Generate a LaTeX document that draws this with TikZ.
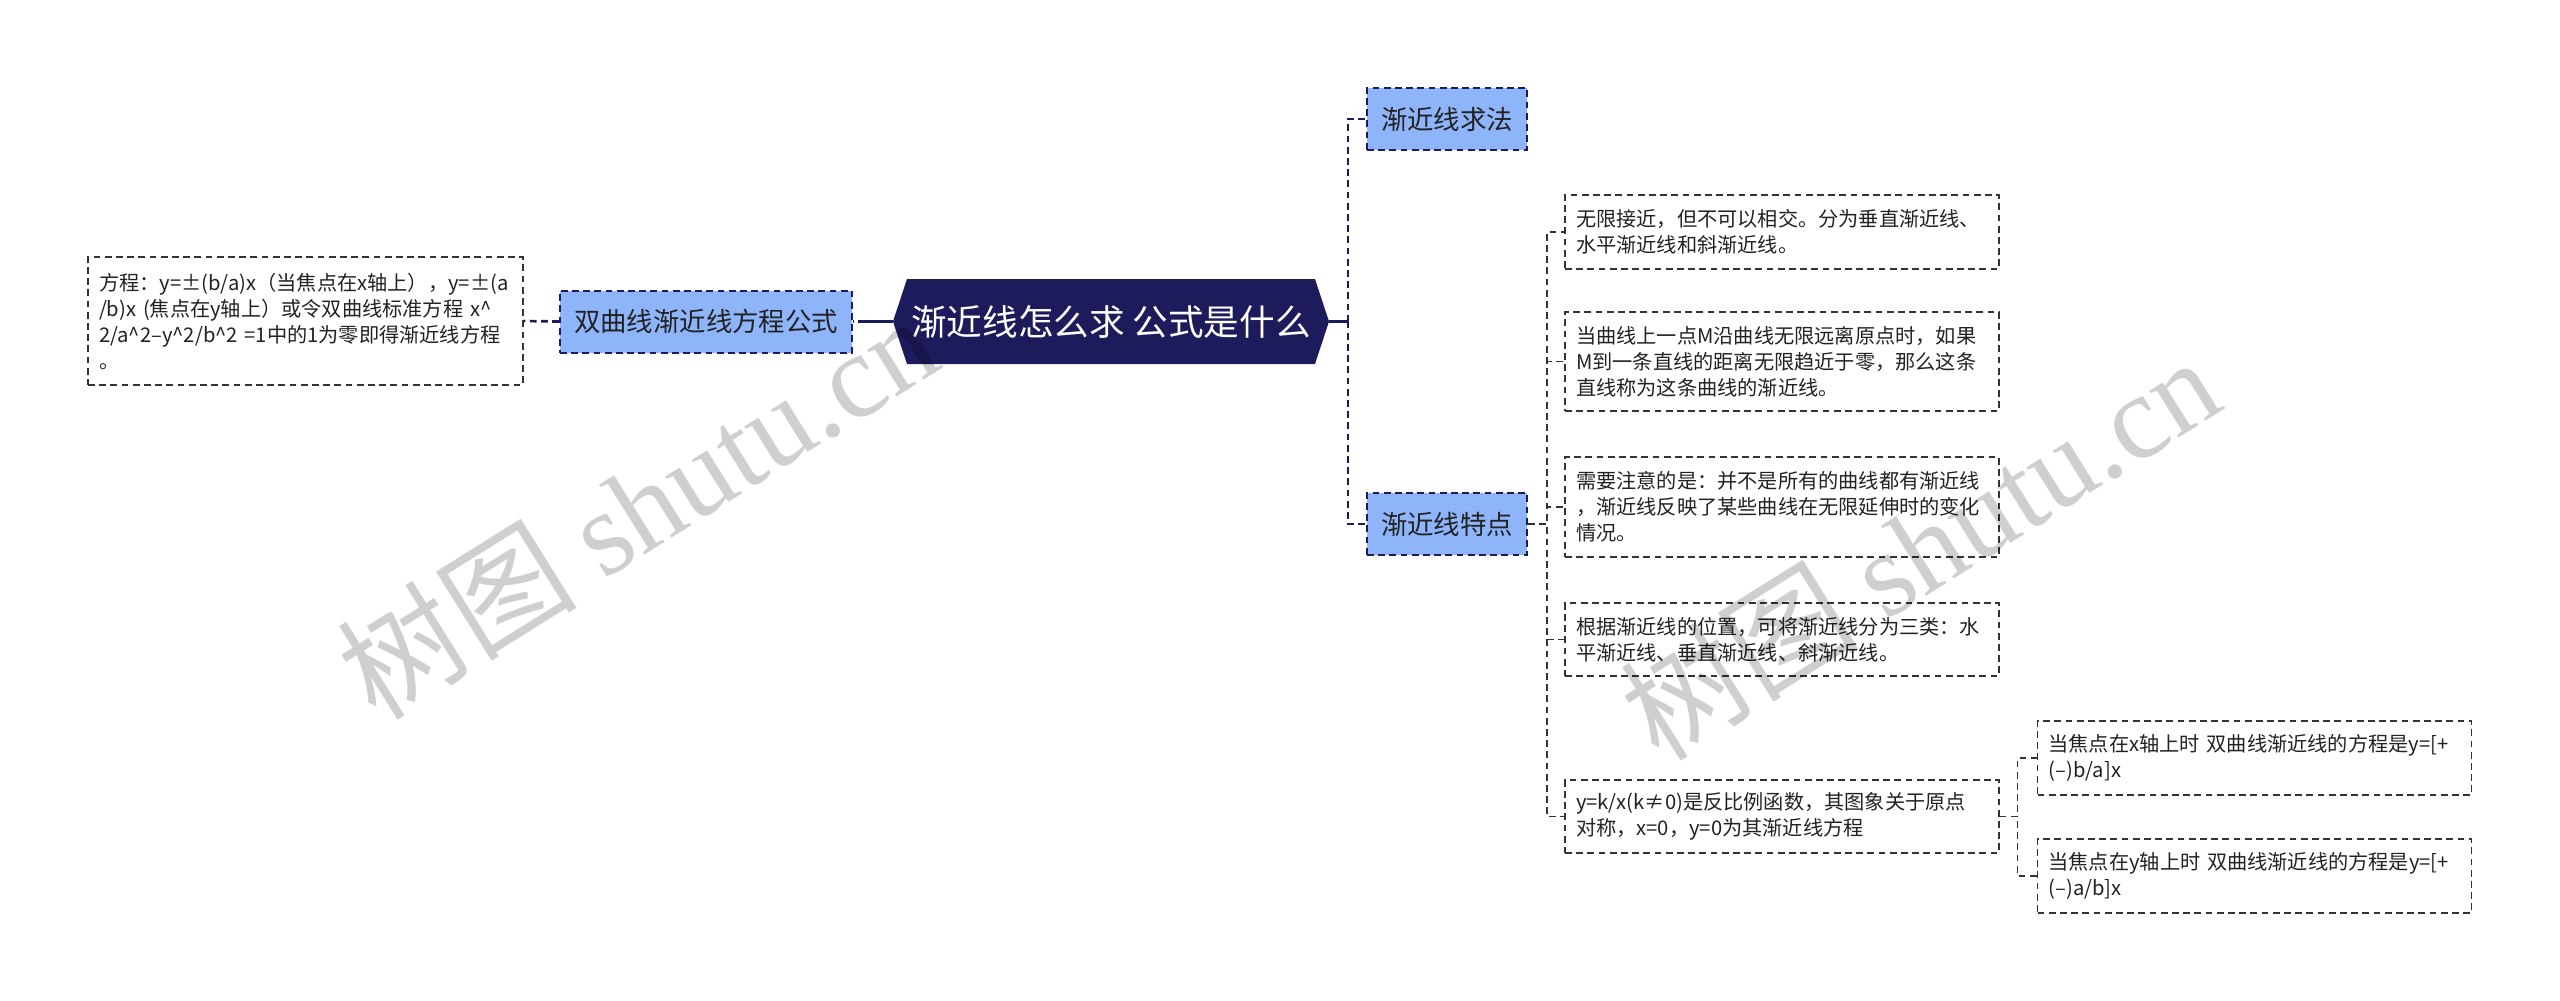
\documentclass[tikz,border=0pt]{standalone}
\usepackage{fontspec}
\setmainfont{Noto Sans CJK SC}
\newfontfamily\wmlat{Liberation Serif}
\definecolor{navy}{HTML}{1E1B5C}
\definecolor{lblue}{HTML}{8EB4F9}
\definecolor{leafline}{HTML}{333333}
\definecolor{txt}{HTML}{222222}
\begin{document}
\begin{tikzpicture}[x=0.5pt,y=-0.5pt,
  trunk/.style={draw=navy, line width=1.35pt, dash pattern=on 3.4pt off 2.2pt},
  trunksolid/.style={draw=navy, line width=1.35pt},
  leafconn/.style={draw=leafline, line width=0.65pt, dash pattern=on 3.4pt off 2.2pt},
  lvl/.style={draw=navy, fill=lblue, line width=1pt, dash pattern=on 3.4pt off 2.2pt, inner sep=0pt, minimum width=80pt, minimum height=31pt, text=txt, font=\fontsize{13.2pt}{16pt}\selectfont},
  leaf/.style={draw=leafline, fill=white, line width=0.65pt, dash pattern=on 3.4pt off 2.2pt, inner xsep=5.5pt, inner ysep=0pt, text width=206pt, minimum width=217pt, text=txt, align=left, font=\fontsize{10.1pt}{13pt}\selectfont},
  wm/.style={rotate=32, text=black, text opacity=0.19, inner sep=0pt, font=\fontsize{60pt}{60pt}\selectfont},
]
\useasboundingbox (0,0) rectangle (2560,1001);

% central hexagon
\fill[navy] (893,321.5) -- (907,279) -- (1315,279) -- (1329,321.5) -- (1315,364) -- (907,364) -- cycle;
\node[minimum width=218pt, minimum height=42.5pt, inner sep=0pt, text=white, font=\fontsize{17.8pt}{20pt}\selectfont] (C) at (1111,321.5) {渐近线怎么求 公式是什么};

% level 1
\node[lvl, minimum width=146pt] (A) at (706,321.5) {双曲线渐近线方程公式};
\node[lvl] (B1) at (1447,119) {渐近线求法};
\node[lvl] (B2) at (1447,524) {渐近线特点};

% left leaf
\node[leaf, text width=206.5pt, minimum width=217.5pt, minimum height=64pt] (L1) at (305.5,321) {\mbox{方程：y=±(b/a)x（当焦点在x轴上），y=±(a}\\\mbox{/b)x (焦点在y轴上）或令双曲线标准方程 x\^{}}\\\mbox{2/a\^{}2–y\^{}2/b\^{}2 =1中的1为零即得渐近线方程}\\。};

% right leaves
\node[leaf, minimum height=37pt] (T1) at (1782,232) {\mbox{无限接近，但不可以相交。分为垂直渐近线、}\\\mbox{水平渐近线和斜渐近线。}};
\node[leaf, minimum height=49.5pt] (T2) at (1782,361.5) {\mbox{当曲线上一点M沿曲线无限远离原点时，如果}\\\mbox{M到一条直线的距离无限趋近于零，那么这条}\\\mbox{直线称为这条曲线的渐近线。}};
\node[leaf, minimum height=50pt] (T3) at (1782,507) {\mbox{需要注意的是：并不是所有的曲线都有渐近线}\\\mbox{，渐近线反映了某些曲线在无限延伸时的变化}\\\mbox{情况。}};
\node[leaf, minimum height=36.5pt] (T4) at (1782,639.5) {\mbox{根据渐近线的位置，可将渐近线分为三类：水}\\\mbox{平渐近线、垂直渐近线、斜渐近线。}};
\node[leaf, minimum height=36.5pt] (T5) at (1782,816.5) {\mbox{y=k/x(k≠0)是反比例函数，其图象关于原点}\\\mbox{对称，x=0，y=0为其渐近线方程}};
\node[leaf, minimum height=37pt] (T6) at (2254.5,758) {\mbox{当焦点在x轴上时 双曲线渐近线的方程是y=[+}\\\mbox{(–)b/a]x}};
\node[leaf, minimum height=37pt] (T7) at (2254.5,876) {\mbox{当焦点在y轴上时 双曲线渐近线的方程是y=[+}\\\mbox{(–)a/b]x}};

% connectors: center to level 1
\coordinate (jR) at (1348,321.5);
\coordinate (jL) at (865,321.5);
\draw[trunksolid] (C.east) -- (jR);
\draw[trunk] (jR) |- (B1.west);
\draw[trunk] (jR) |- (B2.west);
\draw[trunksolid] (C.west) -- (jL);
\draw[trunk] (jL) -- (A.east);
\draw[trunk] (A.west) -- (L1.east);

% level 1 to leaves
\foreach \t in {T1,T2,T3,T4,T5}{
  \draw[leafconn] (B2.east) -- ++(19,0) |- (\t.west);
}
\draw[leafconn] (T5.east) -- ++(18,0) |- (T6.west);
\draw[leafconn] (T5.east) -- ++(18,0) |- (T7.west);

% watermarks
\node[wm] (wm1) at (637,506) {树图 {\wmlat shutu.cn}};
\node[wm] (wm2) at (1919,547) {树图 {\wmlat shutu.cn}};
\end{tikzpicture}
\end{document}
